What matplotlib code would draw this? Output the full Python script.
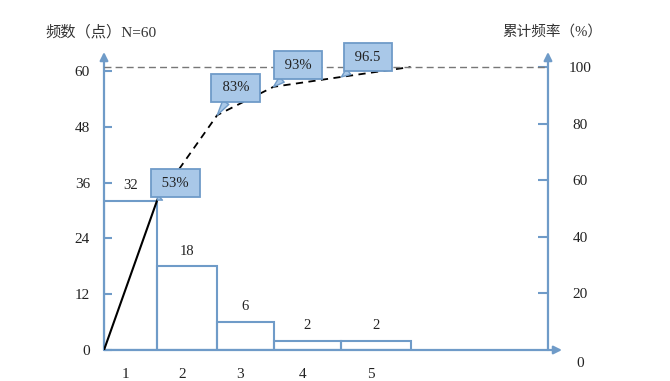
import numpy as np
import matplotlib
matplotlib.use('Agg')
import matplotlib.pyplot as plt

# 数据
categories = ['1', '2', '3', '4', '5']
counts = [32, 18, 6, 2, 2]
cum_pct = [53, 83, 93, 96.5, 100]
cum_labels = ['53%', '83%', '93%', '96.5']
left_ticks = [0, 12, 24, 36, 48, 60]
right_ticks = [20, 40, 60, 80, 100]

# 样式
blue = '#6f9bc8'
box_fc = '#a9c8e8'
widths = [0.87, 0.98, 0.92, 1.11, 1.13]   # 柱宽(手绘图宽度不等)
x_right = 7.255                            # 右轴位置
num_font = ['Liberation Serif', 'Noto Sans CJK SC']

plt.rcParams['font.family'] = num_font
plt.rcParams['axes.unicode_minus'] = False

fig = plt.figure(figsize=(6.7, 3.81), dpi=100)
ax = fig.add_axes([104 / 670, 31 / 381, 458 / 670, 298 / 381])
ax.set_xlim(0, 7.484)
ax.set_ylim(0, 64.09)
ax2 = ax.twinx()
ax2.set_ylim(0, 105.3)

for a in (ax, ax2):
    for s in a.spines.values():
        s.set_visible(False)
    a.patch.set_visible(False)

# 柱子(只画边框)
edges = np.concatenate([[0], np.cumsum(widths)])
lefts = edges[:-1]
centers = lefts + np.array(widths) / 2
ax.bar(lefts, counts, width=widths, align='edge', fill=False,
       edgecolor=blue, linewidth=1.5)
for c, v in zip(centers, counts):
    ax.annotate(str(v), xy=(c, v), xytext=(0, 11), textcoords='offset points',
                ha='center', va='center', fontsize=10.5, color='#222')

# 坐标轴线和箭头
arr = dict(arrowstyle='-|>', color=blue, lw=1.6, shrinkA=0, shrinkB=0,
           mutation_scale=12)
ax.annotate('', xy=(0, 1), xytext=(0, 0), xycoords='axes fraction', arrowprops=arr)
ax.annotate('', xy=(1, 0), xytext=(0, 0), xycoords='axes fraction', arrowprops=arr)
ax2.annotate('', xy=(x_right, 1), xytext=(x_right, 0),
             xycoords=('data', 'axes fraction'), arrowprops=arr)

# 左轴刻度
ax.set_yticks(left_ticks)
ax.set_yticklabels([str(t) for t in left_ticks])
ax.tick_params(axis='y', direction='in', length=6, width=1.5, color=blue,
               pad=10, labelsize=11, labelcolor='#222')
ax.set_xticks(centers - 0.08)
ax.set_xticklabels(categories)
ax.tick_params(axis='x', length=0, pad=13, labelsize=11, labelcolor='#222')

# 右轴刻度
ax2.spines['right'].set_position(('data', x_right))
ax2.set_yticks(right_ticks)
ax2.set_yticklabels([str(t) for t in right_ticks])
ax2.tick_params(axis='y', direction='in', length=7, width=1.5, color=blue,
                pad=23, labelsize=11, labelcolor='#222')
for lbl in ax2.get_yticklabels():
    lbl.set_ha('center')
ax2.annotate('0', xy=(x_right, 0), xytext=(23, -10), textcoords='offset points',
             ha='center', va='center', fontsize=11, color='#222')

# 累计频率曲线
cx = np.concatenate([[0], edges[1:]])
cy = np.concatenate([[0], cum_pct])
ax2.plot(cx[:2], cy[:2], color='black', lw=1.5)
ax2.plot(cx[1:], cy[1:], color='black', lw=1.3, ls=(0, (4, 3)))
ax2.plot([0, x_right], [100, 100], color='#777', lw=1, ls=(0, (5, 3)))

# 标注框
box_pos = [(1.17, 59.0), (2.15, 92.6), (3.17, 100.7), (4.31, 103.5)]
for lab, (bx, by), px, py in zip(cum_labels, box_pos, cx[1:], cum_pct):
    ax2.annotate(' ' + lab + ' ', xy=(px, py), xytext=(bx, by), ha='center',
                 va='center', fontsize=10.5, color='#222',
                 bbox=dict(boxstyle='square,pad=0.5', fc=box_fc, ec=blue, lw=1.3),
                 arrowprops=dict(arrowstyle='wedge,tail_width=0.5', fc=box_fc,
                                 ec=blue, lw=1.0, shrinkA=0, shrinkB=0))

# 标题
fig.text(45 / 670, 1 - 32 / 381, '频数（点）N=60', ha='left', va='center',
         fontsize=11, color='#333')
fig.text(502 / 670, 1 - 32 / 381, '累计频率（%）', ha='left', va='center',
         fontsize=10.5, color='#333')

fig.savefig('out.png', dpi=100)
